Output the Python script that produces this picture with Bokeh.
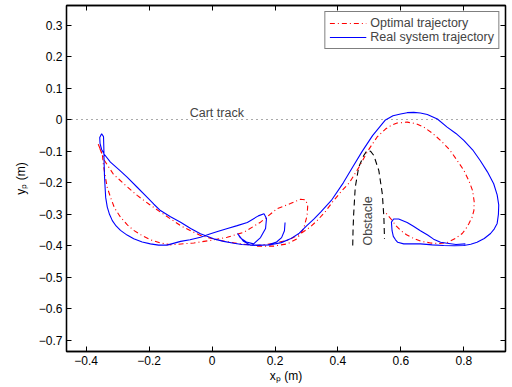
import math
from bokeh.plotting import figure
from bokeh.models import Range1d, LinearAxis, Legend, LegendItem, Label, FixedTicker
from bokeh.embed import file_html
from bokeh.resources import INLINE

# ---------------- data ----------------
optimal_x = [0.143, 0.196, 0.239, 0.270, 0.291, 0.302, 0.304, 0.297, 0.281, 0.249,
             0.207, 0.154, 0.101, 0.048, -0.005, -0.058, -0.132, -0.165, -0.196, -0.222,
             -0.249, -0.270, -0.291, -0.310, -0.323, -0.333, -0.339, -0.345, -0.349, -0.363,
             -0.342, -0.314, -0.276, -0.238, -0.200, -0.164, -0.130, -0.100, -0.067, -0.037,
             -0.005, 0.027, 0.060, 0.090, 0.141, 0.186, 0.239, 0.281, 0.310, 0.334,
             0.361, 0.385, 0.410, 0.436, 0.467, 0.494, 0.524, 0.551, 0.570, 0.588,
             0.620, 0.648, 0.673, 0.700, 0.726, 0.755, 0.779, 0.800, 0.816, 0.828,
             0.833, 0.832, 0.826, 0.816, 0.806, 0.795, 0.773, 0.747, 0.720, 0.694,
             0.665, 0.641, 0.618, 0.599, 0.584, 0.572, 0.560, 0.551]
optimal_y = [-0.401, -0.401, -0.394, -0.378, -0.346, -0.304, -0.272, -0.254, -0.252, -0.266,
             -0.282, -0.325, -0.357, -0.373, -0.383, -0.391, -0.397, -0.391, -0.381, -0.368,
             -0.351, -0.333, -0.309, -0.280, -0.245, -0.215, -0.182, -0.145, -0.108, -0.074,
             -0.129, -0.172, -0.207, -0.240, -0.268, -0.293, -0.316, -0.336, -0.353, -0.367,
             -0.376, -0.383, -0.389, -0.394, -0.399, -0.394, -0.383, -0.362, -0.342, -0.320,
             -0.290, -0.258, -0.228, -0.200, -0.150, -0.100, -0.055, -0.029, -0.017, -0.010,
             -0.007, -0.012, -0.023, -0.042, -0.065, -0.095, -0.129, -0.160, -0.193, -0.225,
             -0.260, -0.288, -0.310, -0.330, -0.347, -0.361, -0.377, -0.390, -0.393, -0.391,
             -0.386, -0.377, -0.365, -0.351, -0.336, -0.319, -0.305, -0.294]

real_x = [0.232, 0.230, 0.221, 0.205, 0.179, 0.147, 0.122, 0.100, 0.081, 0.090,
          0.109, 0.132, 0.154, 0.170, 0.173, 0.165, 0.147, 0.112, 0.080, 0.049,
          0.020, -0.005, -0.037, -0.070, -0.100, -0.143, -0.170, -0.196, -0.222, -0.249,
          -0.270, -0.291, -0.305, -0.317, -0.326, -0.333, -0.338, -0.340, -0.342, -0.343,
          -0.344, -0.345, -0.351, -0.357, -0.356, -0.351, -0.342, -0.323, -0.296, -0.270,
          -0.238, -0.206, -0.185, -0.164, -0.132, -0.100, -0.068, -0.037, 0.005, 0.037,
          0.069, 0.095, 0.122, 0.155, 0.186, 0.220, 0.249, 0.277, 0.302, 0.325,
          0.345, 0.379, 0.417, 0.446, 0.477, 0.510, 0.551, 0.575, 0.599, 0.620,
          0.641, 0.662, 0.684, 0.716, 0.747, 0.775, 0.800, 0.828, 0.852, 0.875,
          0.895, 0.906, 0.911, 0.910, 0.906, 0.897, 0.885, 0.865, 0.842, 0.822,
          0.800, 0.770, 0.736, 0.700, 0.662, 0.630, 0.609, 0.590, 0.583, 0.576,
          0.572, 0.570, 0.577, 0.593, 0.620, 0.640, 0.662, 0.685, 0.704, 0.726,
          0.747, 0.775, 0.805]
real_y = [-0.326, -0.352, -0.374, -0.388, -0.397, -0.399, -0.398, -0.386, -0.361, -0.375,
          -0.388, -0.394, -0.374, -0.345, -0.313, -0.298, -0.305, -0.326, -0.336, -0.345,
          -0.354, -0.362, -0.373, -0.381, -0.386, -0.398, -0.398, -0.394, -0.388, -0.378,
          -0.366, -0.351, -0.337, -0.320, -0.300, -0.277, -0.247, -0.214, -0.175, -0.139,
          -0.087, -0.053, -0.044, -0.056, -0.075, -0.094, -0.110, -0.134, -0.158, -0.182,
          -0.214, -0.246, -0.268, -0.288, -0.308, -0.325, -0.345, -0.362, -0.378, -0.386,
          -0.392, -0.396, -0.397, -0.398, -0.397, -0.390, -0.378, -0.360, -0.335, -0.314,
          -0.293, -0.256, -0.200, -0.151, -0.100, -0.050, 0.000, 0.013, 0.019, 0.023,
          0.024, 0.022, 0.017, 0.003, -0.023, -0.043, -0.065, -0.095, -0.129, -0.165,
          -0.203, -0.238, -0.270, -0.300, -0.329, -0.346, -0.361, -0.377, -0.389, -0.395,
          -0.399, -0.400, -0.399, -0.397, -0.394, -0.394, -0.394, -0.389, -0.381, -0.370,
          -0.352, -0.325, -0.315, -0.315, -0.326, -0.338, -0.352, -0.366, -0.379, -0.389,
          -0.392, -0.396, -0.394]

obstacle_x = [0.447, 0.448, 0.450, 0.455, 0.466, 0.482, 0.493, 0.504, 0.514, 0.530, 0.541, 0.546, 0.548]
obstacle_y = [-0.399, -0.350, -0.299, -0.214, -0.150, -0.113, -0.097, -0.100, -0.113, -0.161, -0.235, -0.309, -0.378]

cart_track_y = [0.0]

x_ticks = [-0.4, -0.2, 0.0, 0.2, 0.4, 0.6, 0.8]
x_tick_labels = ["\u22120.4", "\u22120.2", "0", "0.2", "0.4", "0.6", "0.8"]
y_ticks = [0.3, 0.2, 0.1, 0.0, -0.1, -0.2, -0.3, -0.4, -0.5, -0.6, -0.7]
y_tick_labels = ["0.3", "0.2", "0.1", "0", "\u22120.1", "\u22120.2", "\u22120.3",
                 "\u22120.4", "\u22120.5", "\u22120.6", "\u22120.7"]

series_names = ["Optimal trajectory", "Real system trajectory"]
cart_label = "Cart track"
obstacle_label = "Obstacle"
x_label = "x\u209a (m)"
y_label = "y\u209a (m)"

FONT = "Liberation Sans"

# ---------------- figure ----------------
p = figure(width=512, height=387,
           x_range=Range1d(-0.4626, 0.9325), y_range=Range1d(-0.736, 0.3636),
           output_backend="svg", toolbar_location=None,
           min_border_left=66, min_border_right=7, min_border_top=5, min_border_bottom=36)
p.xgrid.visible = False
p.ygrid.visible = False
p.outline_line_color = "black"
p.outline_line_width = 1.3
p.background_fill_color = "white"
p.border_fill_color = "white"


def style_axis(ax, ticks, labels):
    ax.ticker = FixedTicker(ticks=ticks)
    ax.major_label_overrides = dict(zip(ticks, labels))
    ax.major_tick_in = 5
    ax.major_tick_out = 0
    ax.minor_tick_line_color = None
    ax.axis_line_color = "black"
    ax.axis_line_width = 1.3
    ax.major_tick_line_color = "black"
    ax.major_label_text_font = FONT
    ax.major_label_text_font_size = "12px"
    ax.major_label_text_color = "black"
    ax.major_label_standoff = 4
    ax.axis_label_text_font = FONT
    ax.axis_label_text_font_size = "12px"
    ax.axis_label_text_font_style = "normal"
    ax.axis_label_text_color = "black"


style_axis(p.xaxis[0], x_ticks, x_tick_labels)
style_axis(p.yaxis[0], y_ticks, y_tick_labels)
p.xaxis[0].axis_label = x_label
p.xaxis[0].axis_label_standoff = 1
p.yaxis[0].axis_label = y_label
p.yaxis[0].axis_label_standoff = 8

top_ax = LinearAxis()
style_axis(top_ax, x_ticks, ["" for _ in x_ticks])
top_ax.major_label_text_font_size = "0px"
top_ax.major_label_standoff = 0
p.add_layout(top_ax, "above")

right_ax = LinearAxis()
style_axis(right_ax, y_ticks, ["" for _ in y_ticks])
right_ax.major_label_text_font_size = "0px"
right_ax.major_label_standoff = 0
p.add_layout(right_ax, "right")

# cart track (horizontal span glyph)
p.hspan(y=cart_track_y, line_color="#555555", line_dash="1 4", line_width=1)

# obstacle
p.line(obstacle_x, obstacle_y, line_color="black", line_dash="6 4", line_width=1.1)

r_opt = p.line(optimal_x, optimal_y, line_color="#ff0000", line_dash="5 3 1 3", line_width=1.1)
r_real = p.line(real_x, real_y, line_color="#0000ff", line_width=1.1)

p.add_layout(Label(x=0.015, y=0.023, text=cart_label, text_align="center",
                   text_baseline="middle", text_font=FONT, text_font_size="12.5px"))
p.add_layout(Label(x=0.497, y=-0.321, text=obstacle_label, angle=math.pi / 2,
                   text_align="center", text_baseline="middle",
                   text_font=FONT, text_font_size="12.5px"))

legend = Legend(items=[LegendItem(label=series_names[0], renderers=[r_opt]),
                       LegendItem(label=series_names[1], renderers=[r_real])],
                location="top_right", orientation="vertical",
                glyph_width=37, glyph_height=14, label_height=14, spacing=0,
                padding=4, margin=6, label_standoff=4,
                label_text_font=FONT, label_text_font_size="12.5px",
                border_line_color="black", border_line_width=1,
                background_fill_color="white")
p.add_layout(legend)

open("out.html", "w").write(file_html(p, INLINE))
